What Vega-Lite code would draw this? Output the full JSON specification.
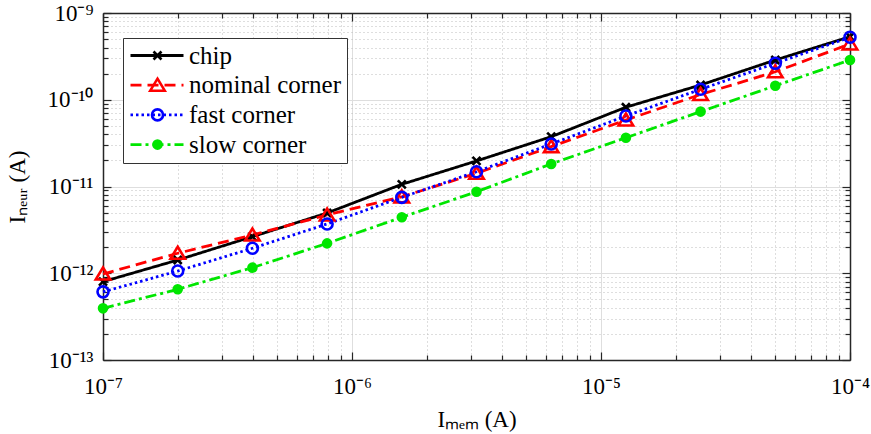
{
  "$schema": "https://vega.github.io/schema/vega-lite/v6.json",
  "width": 747,
  "height": 347,
  "autosize": {"type": "none"},
  "padding": {"left": 103, "top": 13, "right": 21, "bottom": 74},
  "background": "white",
  "config": {
    "font": "Liberation Serif",
    "view": {"stroke": null},
    "axis": {"labelFont": "Liberation Serif", "titleFont": "Liberation Serif"},
    "legend": {"labelFont": "Liberation Serif", "titleFont": "Liberation Serif"}
  },
  "data": {"values": [
    {"series": "chip", "x": 1e-7, "y": 8.0e-13},
    {"series": "chip", "x": 1.9953e-7, "y": 1.42e-12},
    {"series": "chip", "x": 3.9811e-7, "y": 2.64e-12},
    {"series": "chip", "x": 7.9433e-7, "y": 4.95e-12},
    {"series": "chip", "x": 1.5849e-6, "y": 1.06e-11},
    {"series": "chip", "x": 3.1623e-6, "y": 1.97e-11},
    {"series": "chip", "x": 6.3096e-6, "y": 3.75e-11},
    {"series": "chip", "x": 1.2589e-5, "y": 8.2e-11},
    {"series": "chip", "x": 2.5119e-5, "y": 1.48e-10},
    {"series": "chip", "x": 5.0119e-5, "y": 2.87e-10},
    {"series": "chip", "x": 1e-4, "y": 5.33e-10},
    {"series": "nominal corner", "x": 1e-7, "y": 9.8e-13},
    {"series": "nominal corner", "x": 1.9953e-7, "y": 1.70e-12},
    {"series": "nominal corner", "x": 3.9811e-7, "y": 2.76e-12},
    {"series": "nominal corner", "x": 7.9433e-7, "y": 4.7e-12},
    {"series": "nominal corner", "x": 1.5849e-6, "y": 7.6e-12},
    {"series": "nominal corner", "x": 3.1623e-6, "y": 1.42e-11},
    {"series": "nominal corner", "x": 6.3096e-6, "y": 2.88e-11},
    {"series": "nominal corner", "x": 1.2589e-5, "y": 5.84e-11},
    {"series": "nominal corner", "x": 2.5119e-5, "y": 1.15e-10},
    {"series": "nominal corner", "x": 5.0119e-5, "y": 2.10e-10},
    {"series": "nominal corner", "x": 1e-4, "y": 4.4e-10},
    {"series": "fast corner", "x": 1e-7, "y": 6.1e-13},
    {"series": "fast corner", "x": 1.9953e-7, "y": 1.06e-12},
    {"series": "fast corner", "x": 3.9811e-7, "y": 1.94e-12},
    {"series": "fast corner", "x": 7.9433e-7, "y": 3.7e-12},
    {"series": "fast corner", "x": 1.5849e-6, "y": 7.5e-12},
    {"series": "fast corner", "x": 3.1623e-6, "y": 1.48e-11},
    {"series": "fast corner", "x": 6.3096e-6, "y": 3.09e-11},
    {"series": "fast corner", "x": 1.2589e-5, "y": 6.5e-11},
    {"series": "fast corner", "x": 2.5119e-5, "y": 1.32e-10},
    {"series": "fast corner", "x": 5.0119e-5, "y": 2.63e-10},
    {"series": "fast corner", "x": 1e-4, "y": 5.25e-10},
    {"series": "slow corner", "x": 1e-7, "y": 3.94e-13},
    {"series": "slow corner", "x": 1.9953e-7, "y": 6.53e-13},
    {"series": "slow corner", "x": 3.9811e-7, "y": 1.16e-12},
    {"series": "slow corner", "x": 7.9433e-7, "y": 2.21e-12},
    {"series": "slow corner", "x": 1.5849e-6, "y": 4.42e-12},
    {"series": "slow corner", "x": 3.1623e-6, "y": 8.7e-12},
    {"series": "slow corner", "x": 6.3096e-6, "y": 1.82e-11},
    {"series": "slow corner", "x": 1.2589e-5, "y": 3.65e-11},
    {"series": "slow corner", "x": 2.5119e-5, "y": 7.3e-11},
    {"series": "slow corner", "x": 5.0119e-5, "y": 1.45e-10},
    {"series": "slow corner", "x": 1e-4, "y": 2.87e-10}
  ]},
  "layer": [
    {
      "mark": {"type": "line", "strokeWidth": 2.8, "clip": false},
      "encoding": {
        "x": {"field": "x", "type": "quantitative",
          "scale": {"type": "log", "domain": [1e-7, 1e-4], "nice": false},
          "axis": {
            "orient": "bottom",
            "values": [1e-7, 2e-7, 3e-7, 4e-7, 5e-7, 6e-7, 7e-7, 8e-7, 9e-7, 1e-6, 2e-6, 3e-6, 4e-6, 5e-6, 6e-6, 7e-6, 8e-6, 9e-6, 1e-5, 2e-5, 3e-5, 4e-5, 5e-5, 6e-5, 7e-5, 8e-5, 9e-5, 1e-4],
            "labelExpr": "abs(log(datum.value)/LN10 - round(log(datum.value)/LN10)) < 0.001 ? '10' + ['⁻⁴','⁻⁵','⁻⁶','⁻⁷'][round(-log(datum.value)/LN10) - 4] : ''",
            "labelFont": "Liberation Serif", "labelFontSize": 23, "labelFlush": false, "labelOverlap": false, "labelPadding": 23, "labelColor": "#000",
            "grid": true,
            "gridDash": {"condition": {"test": "abs(log(datum.value)/LN10 - round(log(datum.value)/LN10)) < 0.001", "value": []}, "value": [1, 3]},
            "gridColor": {"condition": {"test": "abs(log(datum.value)/LN10 - round(log(datum.value)/LN10)) < 0.001", "value": "#dedede"}, "value": "#bdbdbd"},
            "tickSize": {"condition": {"test": "abs(log(datum.value)/LN10 - round(log(datum.value)/LN10)) < 0.001", "value": -8}, "value": -5},
            "tickColor": "#262626", "tickWidth": 1.2,
            "domainColor": "#262626", "domainWidth": 1.5,
            "title": "Iₘₑₘ (A)", "titleFont": "Liberation Serif", "titleFontSize": 23, "titleFontWeight": "normal", "titleColor": "#000", "titlePadding": 7
          }
        },
        "y": {"field": "y", "type": "quantitative",
          "scale": {"type": "log", "domain": [1e-13, 1e-9], "nice": false},
          "axis": {
            "orient": "left",
            "values": [1e-13, 2e-13, 3e-13, 4e-13, 5e-13, 6e-13, 7e-13, 8e-13, 9e-13, 1e-12, 2e-12, 3e-12, 4e-12, 5e-12, 6e-12, 7e-12, 8e-12, 9e-12, 1e-11, 2e-11, 3e-11, 4e-11, 5e-11, 6e-11, 7e-11, 8e-11, 9e-11, 1e-10, 2e-10, 3e-10, 4e-10, 5e-10, 6e-10, 7e-10, 8e-10, 9e-10, 1e-9],
            "labelExpr": "abs(log(datum.value)/LN10 - round(log(datum.value)/LN10)) < 0.001 ? '10' + ['⁻⁹','⁻¹⁰','⁻¹¹','⁻¹²','⁻¹³'][round(-log(datum.value)/LN10) - 9] : ''",
            "labelFont": "Liberation Serif", "labelFontSize": 23, "labelFlush": false, "labelOverlap": false, "labelPadding": 18, "labelColor": "#000",
            "grid": true,
            "gridDash": {"condition": {"test": "abs(log(datum.value)/LN10 - round(log(datum.value)/LN10)) < 0.001", "value": []}, "value": [1, 3]},
            "gridColor": {"condition": {"test": "abs(log(datum.value)/LN10 - round(log(datum.value)/LN10)) < 0.001", "value": "#dedede"}, "value": "#bdbdbd"},
            "tickSize": {"condition": {"test": "abs(log(datum.value)/LN10 - round(log(datum.value)/LN10)) < 0.001", "value": -8}, "value": -5},
            "tickColor": "#262626", "tickWidth": 1.2,
            "domainColor": "#262626", "domainWidth": 1.5,
            "title": "Iₙₑᵤᵣ (A)", "titleFont": "Liberation Serif", "titleFontSize": 23, "titleFontWeight": "normal", "titleColor": "#000", "titlePadding": 18
          }
        },
        "color": {"field": "series", "type": "nominal",
          "scale": {"domain": ["chip", "nominal corner", "fast corner", "slow corner"], "range": ["#000000", "#ff0000", "#0000ff", "#00e600"]},
          "legend": {"orient": "none", "legendX": 20, "legendY": 25, "title": null, "symbolType": "M-2.0,0L8.6,0", "symbolSize": 100, "symbolStrokeWidth": 2.8,
            "labelFontSize": 25, "labelFont": "Liberation Serif", "labelColor": "#000", "labelOffset": 36, "labelLimit": 0, "padding": 5, "rowPadding": 3.7,
            "strokeColor": "#333333", "fillColor": "white"}
        },
        "strokeDash": {"field": "series", "type": "nominal",
          "scale": {"domain": ["chip", "nominal corner", "fast corner", "slow corner"], "range": [[1, 0], [11, 6], [2.5, 3], [11, 4, 3, 4]]},
          "legend": {"orient": "none", "legendX": 20, "legendY": 25, "title": null, "symbolType": "M-2.0,0L8.6,0", "symbolSize": 100, "symbolStrokeWidth": 2.8,
            "labelFontSize": 25, "labelFont": "Liberation Serif", "labelColor": "#000", "labelOffset": 36, "labelLimit": 0, "padding": 5, "rowPadding": 3.7,
            "strokeColor": "#333333", "fillColor": "white"}
        }
      }
    },
    {
      "mark": {"type": "point", "filled": true, "opacity": 1, "size": 100, "strokeWidth": 2.6, "clip": false},
      "encoding": {
        "x": {"field": "x", "type": "quantitative",
          "axis": {
            "orient": "top",
            "values": [1e-7, 2e-7, 3e-7, 4e-7, 5e-7, 6e-7, 7e-7, 8e-7, 9e-7, 1e-6, 2e-6, 3e-6, 4e-6, 5e-6, 6e-6, 7e-6, 8e-6, 9e-6, 1e-5, 2e-5, 3e-5, 4e-5, 5e-5, 6e-5, 7e-5, 8e-5, 9e-5, 1e-4],
            "labels": false, "grid": false, "title": null,
            "tickSize": {"condition": {"test": "abs(log(datum.value)/LN10 - round(log(datum.value)/LN10)) < 0.001", "value": -8}, "value": -5},
            "tickColor": "#262626", "tickWidth": 1.2,
            "domainColor": "#262626", "domainWidth": 1.5
          }
        },
        "y": {"field": "y", "type": "quantitative",
          "axis": {
            "orient": "right",
            "values": [1e-13, 2e-13, 3e-13, 4e-13, 5e-13, 6e-13, 7e-13, 8e-13, 9e-13, 1e-12, 2e-12, 3e-12, 4e-12, 5e-12, 6e-12, 7e-12, 8e-12, 9e-12, 1e-11, 2e-11, 3e-11, 4e-11, 5e-11, 6e-11, 7e-11, 8e-11, 9e-11, 1e-10, 2e-10, 3e-10, 4e-10, 5e-10, 6e-10, 7e-10, 8e-10, 9e-10, 1e-9],
            "labels": false, "grid": false, "title": null,
            "tickSize": {"condition": {"test": "abs(log(datum.value)/LN10 - round(log(datum.value)/LN10)) < 0.001", "value": -8}, "value": -5},
            "tickColor": "#262626", "tickWidth": 1.2,
            "domainColor": "#262626", "domainWidth": 1.5
          }
        },
        "shape": {"field": "series", "type": "nominal",
          "scale": {"domain": ["chip", "nominal corner", "fast corner", "slow corner"], "range": ["M-0.8,-0.8L0.8,0.8M-0.8,0.8L0.8,-0.8", "M0,-1.3L1.45,1.1L-1.45,1.1Z", "M1.1,0A1.1,1.1,0,1,1,-1.1,0A1.1,1.1,0,1,1,1.1,0Z", "M0.8,0A0.8,0.8,0,1,1,-0.8,0A0.8,0.8,0,1,1,0.8,0Z"]},
          "legend": {"orient": "none", "legendX": 37, "legendY": 25, "title": null, "symbolSize": 100, "symbolStrokeWidth": 2.6,
            "labelExpr": "' '", "labelFontSize": 25, "labelFont": "Liberation Serif", "labelOffset": 8, "labelLimit": 0, "padding": 5, "rowPadding": 3.7,
            "strokeColor": null, "fillColor": null}
        },
        "fill": {"field": "series", "type": "nominal",
          "scale": {"domain": ["chip", "nominal corner", "fast corner", "slow corner"], "range": ["transparent", "transparent", "transparent", "#00e600"]},
          "legend": {"orient": "none", "legendX": 37, "legendY": 25, "title": null, "symbolSize": 100, "symbolStrokeWidth": 2.6,
            "labelExpr": "' '", "labelFontSize": 25, "labelFont": "Liberation Serif", "labelOffset": 8, "labelLimit": 0, "padding": 5, "rowPadding": 3.7,
            "strokeColor": null, "fillColor": null}
        },
        "stroke": {"field": "series", "type": "nominal",
          "scale": {"domain": ["chip", "nominal corner", "fast corner", "slow corner"], "range": ["#000000", "#ff0000", "#0000ff", "#00e600"]},
          "legend": {"orient": "none", "legendX": 37, "legendY": 25, "title": null, "symbolSize": 100, "symbolStrokeWidth": 2.6,
            "labelExpr": "' '", "labelFontSize": 25, "labelFont": "Liberation Serif", "labelOffset": 8, "labelLimit": 0, "padding": 5, "rowPadding": 3.7,
            "strokeColor": null, "fillColor": null}
        }
      }
    }
  ],
  "resolve": {
    "axis": {"x": "independent", "y": "independent"},
    "legend": {"color": "independent", "strokeDash": "independent", "shape": "independent", "fill": "independent", "stroke": "independent"}
  }
}
